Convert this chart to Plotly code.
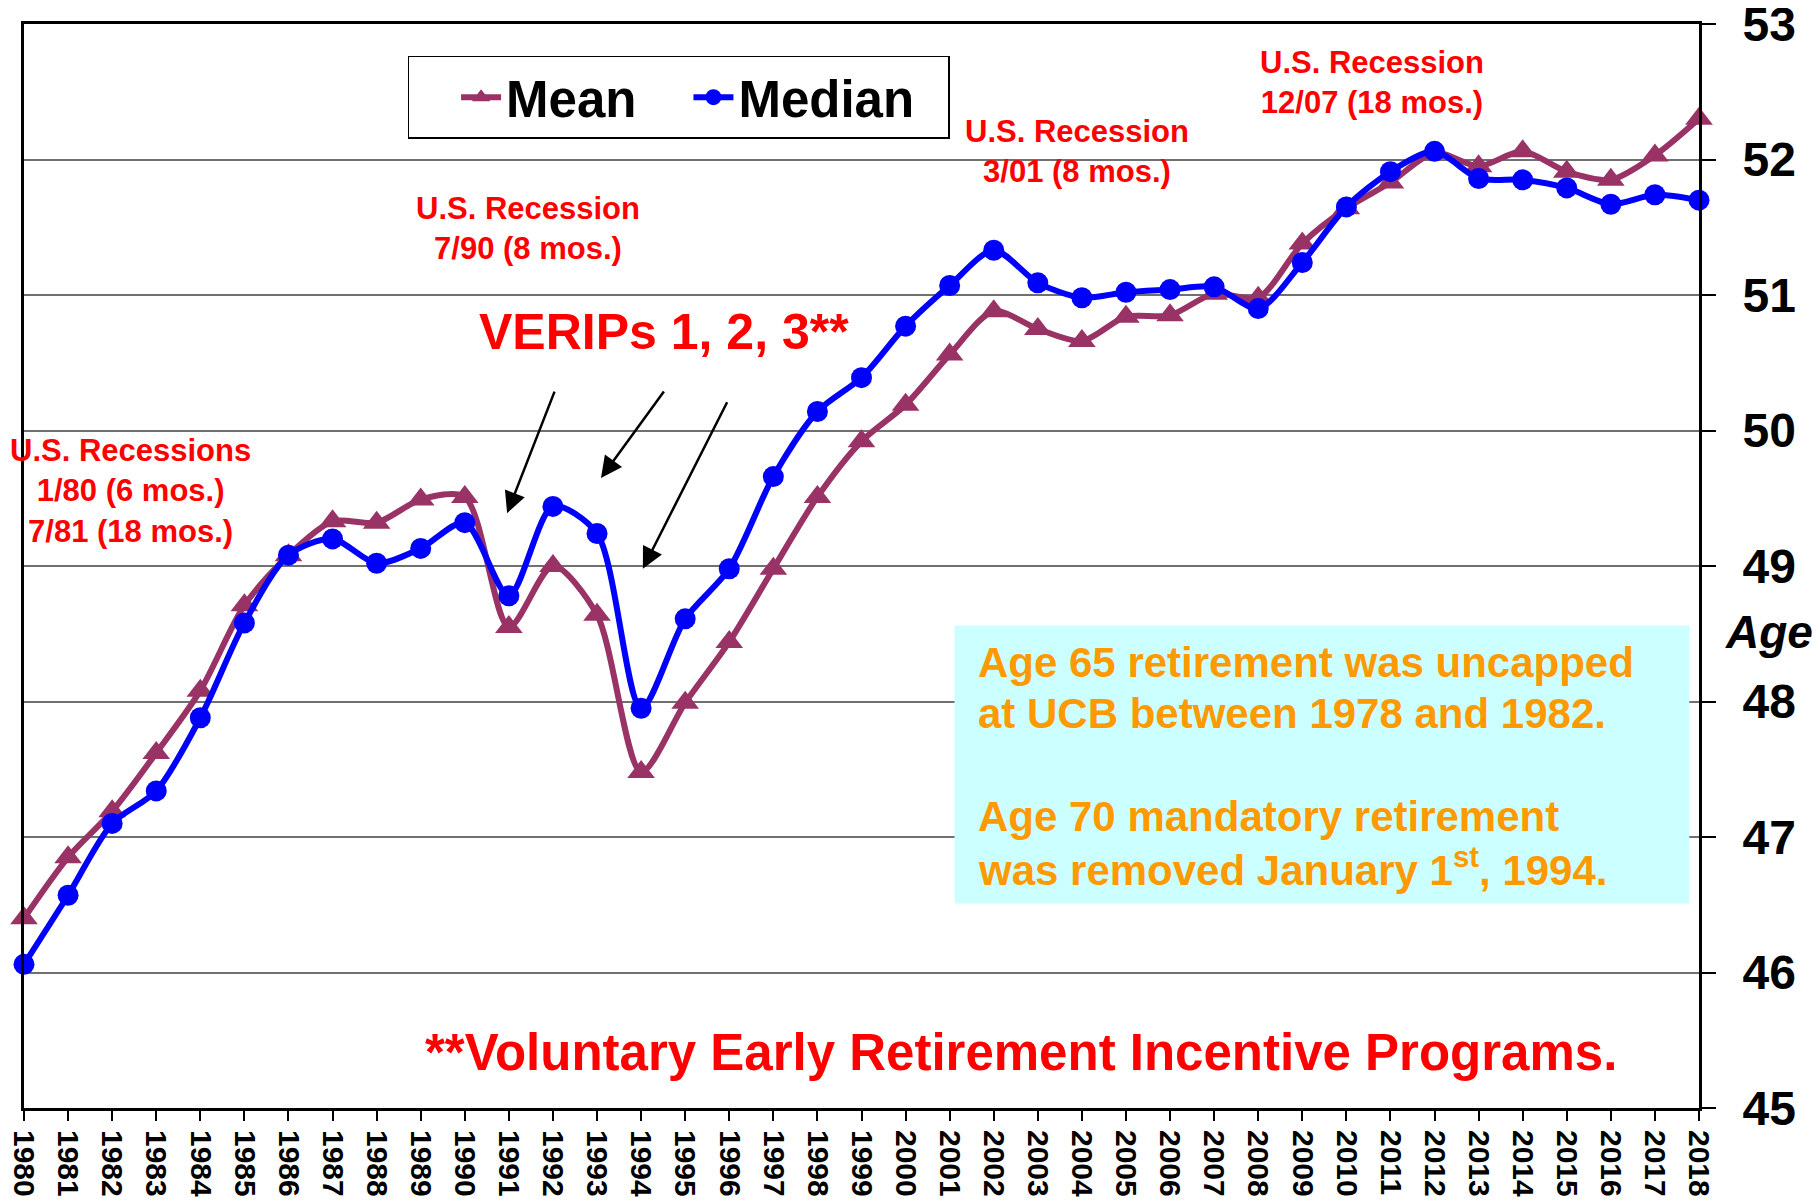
import plotly.graph_objects as go

years = [1980, 1981, 1982, 1983, 1984, 1985, 1986, 1987, 1988, 1989,
         1990, 1991, 1992, 1993, 1994, 1995, 1996, 1997, 1998, 1999,
         2000, 2001, 2002, 2003, 2004, 2005, 2006, 2007, 2008, 2009,
         2010, 2011, 2012, 2013, 2014, 2015, 2016, 2017, 2018]

mean_age = [46.40, 46.85, 47.19, 47.62, 48.08, 48.71, 49.08, 49.33, 49.32, 49.49,
            49.51, 48.55, 49.00, 48.64, 47.48, 47.99, 48.44, 48.98, 49.51, 49.92,
            50.19, 50.56, 50.88, 50.75, 50.66, 50.84, 50.85, 51.01, 50.98, 51.38,
            51.64, 51.83, 52.05, 51.95, 52.06, 51.91, 51.85, 52.03, 52.30]

median_age = [46.06, 46.57, 47.10, 47.34, 47.88, 48.58, 49.08, 49.20, 49.02, 49.13,
              49.32, 48.78, 49.44, 49.24, 47.95, 48.61, 48.98, 49.66, 50.14, 50.39,
              50.77, 51.07, 51.33, 51.09, 50.98, 51.02, 51.04, 51.06, 50.90, 51.24,
              51.65, 51.91, 52.06, 51.86, 51.85, 51.79, 51.67, 51.74, 51.70]

y_ticks = [45, 46, 47, 48, 49, 50, 51, 52, 53]

FONT = "Liberation Sans, Arial, sans-serif"
MEAN_C = "#993366"
MED_C = "#0000FF"
RED = "#FF0000"
ORANGE = "#FF9900"
NB = "\u00a0"

fig = go.Figure()
fig.add_trace(go.Scatter(
    x=years, y=mean_age, name="Mean", mode="lines+markers",
    line=dict(color=MEAN_C, width=6, shape="spline", smoothing=0.8),
    marker=dict(symbol="triangle-up", size=24, color=MEAN_C),
    cliponaxis=False))
fig.add_trace(go.Scatter(
    x=years, y=median_age, name="Median" + NB * 2, mode="lines+markers",
    line=dict(color=MED_C, width=6, shape="spline", smoothing=0.8),
    marker=dict(symbol="circle", size=21, color=MED_C),
    cliponaxis=False))

# teal note box
fig.add_shape(type="rect", xref="x", yref="y", x0=2001.11, x1=2017.78, y0=46.51, y1=48.56,
              fillcolor="#CCFFFF", line=dict(width=0), layer="above")

ann = []
def txt(x, y, text, size, color, xanchor="center", italic=False, xref="x"):
    ann.append(dict(x=x, y=y, xref=xref, yref="y", text=text, showarrow=False,
                    xanchor=xanchor, yanchor="middle", align="center" if xanchor == "center" else "left",
                    font=dict(family=FONT, size=size, color=color, weight="bold",
                              style="italic" if italic else "normal")))

txt(1982.41, 49.55, "U.S. Recessions<br>1/80 (6 mos.)<br>7/81 (18 mos.)", 31, RED)
txt(1991.44, 51.49, "U.S. Recession<br>7/90 (8 mos.)", 31, RED)
txt(2003.88, 52.06, "U.S. Recession<br>3/01 (8 mos.)", 31, RED)
txt(2010.58, 52.57, "U.S. Recession<br>12/07 (18 mos.)", 31, RED)
txt(1994.51, 50.73, "VERIPs 1, 2, 3**", 50, RED)
txt(2002.61, 45.41, "**Voluntary Early Retirement Incentive Programs.", 51, RED)

txt(2001.59, 48.29, "Age 65 retirement was uncapped", 42, ORANGE, xanchor="left")
txt(2001.59, 47.91, "at UCB between 1978 and 1982.", 42, ORANGE, xanchor="left")
txt(2001.59, 47.15, "Age 70 mandatory retirement", 42, ORANGE, xanchor="left")
txt(2001.59, 46.78, "was removed January 1<sup>st</sup>, 1994.", 42, ORANGE, xanchor="left")

txt(1.0418, 48.51, "Age", 46, "black", italic=True, xref="paper")

# arrows
for hx, hy, axp, ayp in [(1990.96, 49.39, 48, -123), (1993.09, 49.65, 64, -88), (1994.04, 48.98, 85, -168)]:
    ann.append(dict(x=hx, y=hy, xref="x", yref="y", ax=axp, ay=ayp, text="", showarrow=True,
                    arrowhead=2, arrowsize=1.7, arrowwidth=2.5, arrowcolor="black", standoff=0))

# page body has an 8px margin: shrink figure by that so the plot lands where the reference has it
fig.update_layout(
    width=1812, height=1195,
    margin=dict(l=16, r=121, t=16, b=95),
    paper_bgcolor="white", plot_bgcolor="white",
    font=dict(family=FONT, color="black"),
    annotations=ann,
    showlegend=True,
    legend=dict(orientation="h", x=0.229, y=0.9705, xanchor="left", yanchor="top",
                bgcolor="white", bordercolor="black", borderwidth=1.5,
                font=dict(family=FONT, size=51, color="black", weight="bold"),
                itemwidth=40, indentation=47),
)
fig.update_xaxes(
    range=[1980, 2018], tickmode="array", tickvals=years, ticktext=[str(y) for y in years],
    tickangle=90, tickfont=dict(family=FONT, size=30, color="black", weight="bold"),
    ticks="outside", ticklen=10, tickwidth=1.5, tickcolor="black", ticklabelstandoff=3,
    automargin=False, showgrid=False, zeroline=False,
    showline=True, linewidth=3, linecolor="black", mirror=True)
fig.update_yaxes(
    range=[45, 53], tickmode="array", tickvals=y_ticks, side="right",
    tickfont=dict(family=FONT, size=48, color="black", weight="bold"),
    ticks="outside", ticklen=14, tickwidth=1.5, tickcolor="black",
    ticklabelstandoff=17, ticklabeloverflow="allow", automargin=False,
    showgrid=True, gridcolor="#707070", gridwidth=1.5, zeroline=False,
    showline=True, linewidth=3, linecolor="black", mirror=True)

fig.write_html("out.html")
